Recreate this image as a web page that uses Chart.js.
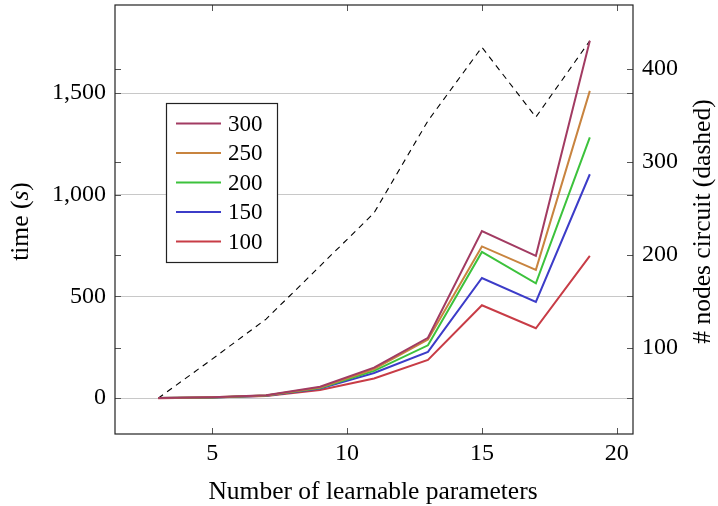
<!DOCTYPE html>
<html>
<head>
<meta charset="utf-8">
<script src="https://cdn.jsdelivr.net/npm/chart.js@4/dist/chart.umd.min.js"></script>
<style>
html,body{margin:0;padding:0;background:#fff;}
#wrap{position:relative;width:718px;height:506px;}
</style>
</head>
<body>
<div id="wrap"><canvas id="c" width="718" height="506"></canvas></div>
<script>
const params = [3, 5, 7, 9, 11, 13, 15, 17, 19];
const time300 = [1, 5, 14, 56, 150, 297, 822, 700, 1757];
const time250 = [1, 5, 13, 53, 143, 288, 746, 631, 1511];
const time200 = [1, 4, 13, 50, 134, 260, 719, 565, 1282];
const time150 = [1, 4, 12, 47, 124, 228, 591, 473, 1101];
const time100 = [0, 3, 11, 40, 97, 188, 457, 344, 700];
const nodes = [46, 88, 131, 188, 245, 344, 423, 348, 430];
const seriesLabels = ['300', '250', '200', '150', '100'];
const xTicks = [5, 10, 15, 20];
const leftTicks = [0, 500, 1000, 1500];
const rightTicks = [100, 200, 300, 400];

const colors = ['#a23b62', '#c8843f', '#3cc23c', '#3c3cc8', '#c83c46'];
const FONT = "'Liberation Serif', 'DejaVu Serif', serif";
const FS = 24;
const TFS = 25.5;

function pts(ys){ return params.map((x,i)=>({x:x, y:ys[i]})); }
const seriesData = [time300, time250, time200, time150, time100];

const datasets = seriesData.map((d,i)=>({
  label: seriesLabels[i], data: pts(d), borderColor: colors[i], backgroundColor: colors[i],
  borderWidth: 2, pointRadius: 0, tension: 0, yAxisID: 'y', fill: false
}));
datasets.push({
  label: 'nodes', data: pts(nodes), borderColor: '#000', borderWidth: 1.1, borderDash: [6,5],
  pointRadius: 0, tension: 0, yAxisID: 'y2', fill: false
});

function setTicks(list){ return s => { s.ticks = list.map(v=>({value:v})); }; }

const decor = {
  id: 'decor',
  afterDraw(chart){
    const ctx = chart.ctx, a = chart.chartArea;
    const xs = chart.scales.x, ys = chart.scales.y, y2 = chart.scales.y2;
    ctx.save();
    ctx.strokeStyle = '#555'; ctx.lineWidth = 1;
    const L = 6;
    ctx.beginPath();
    xTicks.forEach(v=>{ const p = Math.round(xs.getPixelForValue(v))+0.5;
      ctx.moveTo(p, a.bottom); ctx.lineTo(p, a.bottom-L);
      ctx.moveTo(p, a.top); ctx.lineTo(p, a.top+L); });
    leftTicks.forEach(v=>{ const p = Math.round(ys.getPixelForValue(v))+0.5;
      ctx.moveTo(a.left, p); ctx.lineTo(a.left+L, p);
      ctx.moveTo(a.right, p); ctx.lineTo(a.right-L, p); });
    rightTicks.forEach(v=>{ const p = Math.round(y2.getPixelForValue(v))+0.5;
      ctx.moveTo(a.left, p); ctx.lineTo(a.left+L, p);
      ctx.moveTo(a.right, p); ctx.lineTo(a.right-L, p); });
    ctx.stroke();
    ctx.strokeStyle = '#222'; ctx.lineWidth = 1.2;
    ctx.strokeRect(a.left, a.top, a.right-a.left, a.bottom-a.top);
    ctx.restore();

    // x title
    ctx.save();
    ctx.fillStyle = '#000'; ctx.font = TFS + 'px ' + FONT;
    ctx.textAlign = 'center'; ctx.textBaseline = 'middle';
    ctx.fillText('Number of learnable parameters', (a.left+a.right)/2 - 1, 492);
    ctx.restore();

    // left title: time (s)
    ctx.save();
    ctx.fillStyle = '#000';
    ctx.translate(21, (a.top+a.bottom)/2 + 2);
    ctx.rotate(-Math.PI/2);
    ctx.textBaseline = 'middle';
    const p1 = 'time (', p2 = 's', p3 = ')';
    ctx.font = TFS + 'px ' + FONT;
    const w1 = ctx.measureText(p1).width, w3 = ctx.measureText(p3).width;
    ctx.font = 'italic ' + TFS + 'px ' + FONT;
    const w2 = ctx.measureText(p2).width;
    let x0 = -(w1+w2+w3)/2;
    ctx.textAlign = 'left';
    ctx.font = TFS + 'px ' + FONT; ctx.fillText(p1, x0, 0);
    ctx.font = 'italic ' + TFS + 'px ' + FONT; ctx.fillText(p2, x0+w1, 0);
    ctx.font = TFS + 'px ' + FONT; ctx.fillText(p3, x0+w1+w2, 0);
    ctx.restore();

    // right title
    ctx.save();
    ctx.fillStyle = '#000'; ctx.font = TFS + 'px ' + FONT;
    ctx.translate(703, (a.top+a.bottom)/2 + 2);
    ctx.rotate(-Math.PI/2);
    ctx.textAlign = 'center'; ctx.textBaseline = 'middle';
    ctx.fillText('# nodes circuit (dashed)', 0, 0);
    ctx.restore();

    // legend box
    ctx.save();
    const bx = 166.5, by = 103.5, bw = 111, bh = 159;
    ctx.fillStyle = '#fff'; ctx.fillRect(bx, by, bw, bh);
    ctx.strokeStyle = '#222'; ctx.lineWidth = 1.2; ctx.strokeRect(bx, by, bw, bh);
    ctx.font = '23px ' + FONT; ctx.textBaseline = 'middle'; ctx.textAlign = 'left';
    seriesLabels.forEach((lab,i)=>{
      const yy = 123.5 + i*29.5;
      ctx.strokeStyle = colors[i]; ctx.lineWidth = 2;
      ctx.beginPath(); ctx.moveTo(176, yy); ctx.lineTo(221, yy); ctx.stroke();
      ctx.fillStyle = '#000'; ctx.fillText(lab, 228, yy+1);
    });
    ctx.restore();
  }
};

new Chart(document.getElementById('c'), {
  type: 'line',
  data: { datasets },
  options: {
    responsive: false, animation: false, devicePixelRatio: 1,
    layout: { padding: { top: 5, left: 0, right: 0, bottom: 0 } },
    plugins: { legend: { display: false }, tooltip: { enabled: false } },
    scales: {
      x: {
        type: 'linear', min: 1.4, max: 20.6,
        afterBuildTicks: setTicks(xTicks),
        afterFit(s){ s.height = 72; s.paddingLeft = 0; s.paddingRight = 0; },
        ticks: { padding: 5, color: '#000', font: { family: FONT, size: FS }, callback: v => String(v) },
        grid: { display: false, drawTicks: false },
        border: { display: false }
      },
      y: {
        type: 'linear', position: 'left', min: -176, max: 1933,
        afterBuildTicks: setTicks(leftTicks),
        afterFit(s){ s.width = 115; s.paddingTop = 0; s.paddingBottom = 0; },
        ticks: { padding: 9, color: '#000', font: { family: FONT, size: FS },
                 callback: v => v.toLocaleString('en-US') },
        grid: { color: '#c8c8c8', lineWidth: 1, drawTicks: false },
        border: { display: false }
      },
      y2: {
        type: 'linear', position: 'right', min: 7.6, max: 468.4,
        afterBuildTicks: setTicks(rightTicks),
        afterFit(s){ s.width = 85; s.paddingTop = 0; s.paddingBottom = 0; },
        ticks: { padding: 9, color: '#000', font: { family: FONT, size: FS }, callback: v => String(v) },
        grid: { display: false, drawTicks: false },
        border: { display: false }
      }
    }
  },
  plugins: [decor]
});
</script>
</body>
</html>
